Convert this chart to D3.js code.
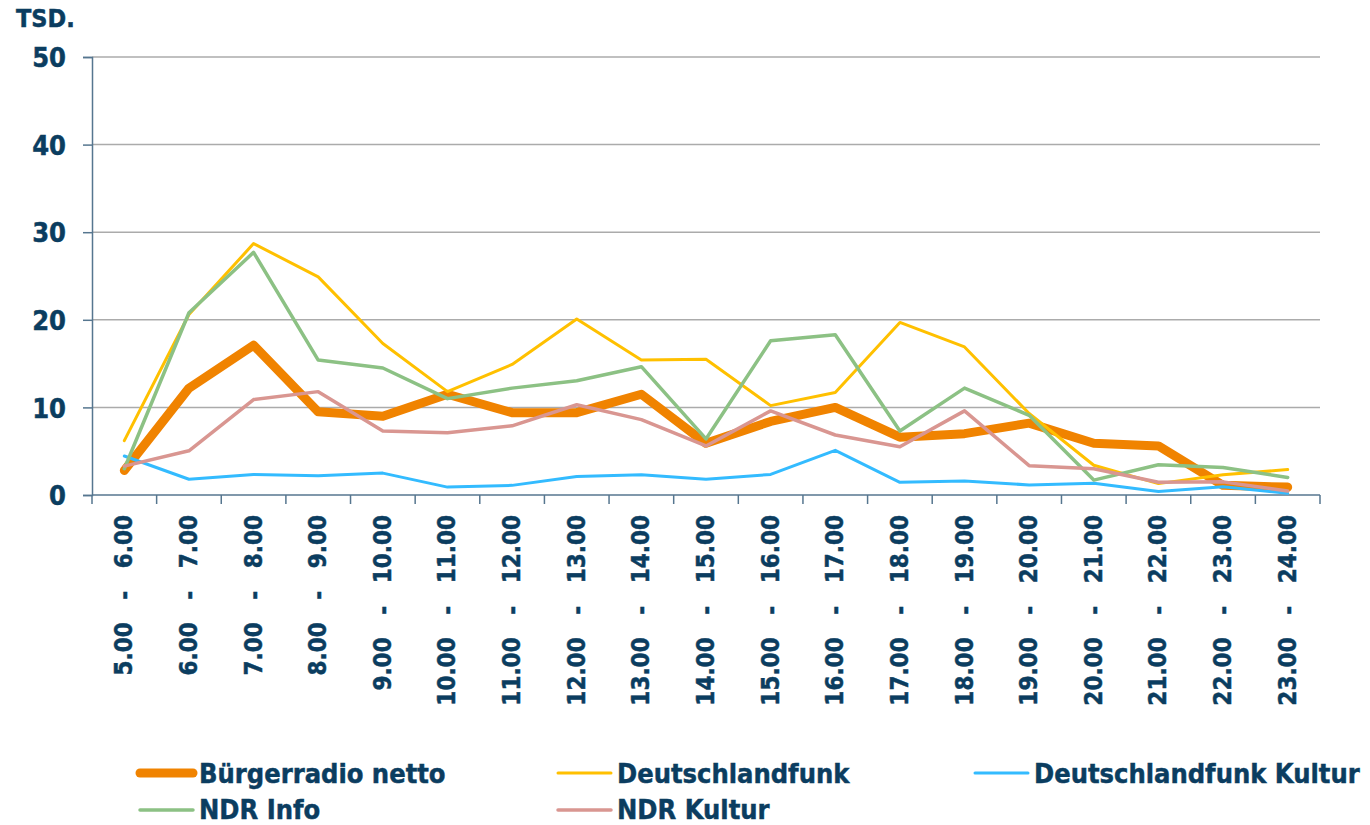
<!DOCTYPE html>
<meta charset="utf-8">

<!-- Load d3.js -->
<script src="https://d3js.org/d3.v7.js"></script>

<style>
  body { margin: 0; background: #fff; }
  text { font-family: "DejaVu Sans Condensed", "DejaVu Sans", sans-serif; font-stretch: condensed; font-weight: bold; fill: #0b3d60; stroke: #0b3d60; stroke-width: 0.45px; }
</style>

<svg id="my_dataviz" width="1370" height="825"></svg>

<script>

// categories (hour slots) and y ticks
const categories = ["5.00   -   6.00", "6.00   -   7.00", "7.00   -   8.00", "8.00   -   9.00",
  "9.00   -   10.00", "10.00   -   11.00", "11.00   -   12.00", "12.00   -   13.00",
  "13.00   -   14.00", "14.00   -   15.00", "15.00   -   16.00", "16.00   -   17.00",
  "17.00   -   18.00", "18.00   -   19.00", "19.00   -   20.00", "20.00   -   21.00",
  "21.00   -   22.00", "22.00   -   23.00", "23.00   -   24.00"];
const yTicks = [0, 10, 20, 30, 40, 50];

// series values (Tsd.)
const buergerradio = [2.8, 12.2, 17.1, 9.5, 9.0, 11.5, 9.4, 9.4, 11.5, 5.9, 8.4, 10.0, 6.6, 7.0, 8.2, 5.9, 5.6, 1.1, 0.9];
const dlf          = [6.2, 20.6, 28.7, 24.9, 17.3, 11.8, 14.9, 20.1, 15.4, 15.5, 10.2, 11.7, 19.7, 16.9, 9.3, 3.4, 1.3, 2.3, 2.9];
const dlfKultur    = [4.45, 1.8, 2.35, 2.2, 2.5, 0.9, 1.1, 2.1, 2.3, 1.8, 2.35, 5.1, 1.45, 1.6, 1.15, 1.35, 0.4, 0.95, 0.2];
const ndrInfo      = [3.0, 20.8, 27.7, 15.4, 14.5, 11.0, 12.2, 13.05, 14.65, 6.4, 17.6, 18.3, 7.3, 12.2, 9.1, 1.7, 3.45, 3.15, 2.0];
const ndrKultur    = [3.3, 5.05, 10.9, 11.8, 7.3, 7.1, 7.9, 10.3, 8.6, 5.6, 9.6, 6.85, 5.5, 9.6, 3.35, 3.0, 1.45, 1.5, 0.45];

const seriesNames = ["Bürgerradio netto", "Deutschlandfunk", "Deutschlandfunk Kultur", "NDR Info", "NDR Kultur"];
const seriesValues = [buergerradio, dlf, dlfKultur, ndrInfo, ndrKultur];
const seriesColors = ["#f08300", "#ffc000", "#33bbff", "#8cc184", "#d99691"];
const seriesWidths = [9, 3, 3, 3.5, 3.5];

// The svg
const svg = d3.select("svg");

const x = d3.scaleBand()
  .domain(categories)
  .range([92, 1320]);

const y = d3.scaleLinear()
  .domain([0, 50])
  .range([495, 57]);

const axisColor = "#56768f";

// grid lines
svg.append("g")
  .selectAll("line")
  .data(yTicks.filter(d => d > 0))
  .join("line")
    .attr("x1", 92)
    .attr("x2", 1320)
    .attr("y1", d => y(d))
    .attr("y2", d => y(d))
    .attr("stroke", "#ababab")
    .attr("stroke-width", 1.5);

// y axis
const yAxis = svg.append("g")
  .attr("transform", "translate(92,0)")
  .call(d3.axisLeft(y).tickValues(yTicks).tickSize(9).tickPadding(17).tickFormat(d3.format("d")));
yAxis.select(".domain").attr("stroke", axisColor).attr("stroke-width", 1.5);
yAxis.selectAll(".tick line").attr("stroke", axisColor).attr("stroke-width", 1.5);
yAxis.selectAll(".tick text")
  .attr("fill", "#0b3d60")
  .style("font-size", "27px")
  .attr("dy", "0.36em");

// x axis line and ticks at band boundaries
svg.append("line")
  .attr("x1", 92).attr("x2", 1320)
  .attr("y1", y(0)).attr("y2", y(0))
  .attr("stroke", axisColor).attr("stroke-width", 1.5);

svg.append("g")
  .selectAll("line")
  .data(d3.range(categories.length + 1))
  .join("line")
    .attr("x1", i => 92 + i * x.step())
    .attr("x2", i => 92 + i * x.step())
    .attr("y1", y(0))
    .attr("y2", y(0) + 9)
    .attr("stroke", axisColor)
    .attr("stroke-width", 1.5);

// x labels, rotated
svg.append("g")
  .selectAll("text")
  .data(categories)
  .join("text")
    .attr("transform", d => `translate(${x(d) + x.bandwidth() / 2 + 8},515) rotate(-90)`)
    .attr("text-anchor", "end")
    .style("font-size", "24px")
    .style("white-space", "pre")
    .text(d => d);

// unit label
svg.append("text")
  .attr("x", 16)
  .attr("y", 27)
  .style("font-size", "25px")
  .text("TSD.");

// lines
const line = d3.line()
  .x((d, i) => x(categories[i]) + x.bandwidth() / 2)
  .y(d => y(d));

svg.append("g")
  .selectAll("path")
  .data(seriesValues)
  .join("path")
    .attr("d", d => line(d))
    .attr("fill", "none")
    .attr("stroke", (d, i) => seriesColors[i])
    .attr("stroke-width", (d, i) => seriesWidths[i])
    .attr("stroke-linejoin", "round")
    .attr("stroke-linecap", "round");

// legend
const legendPos = [[140, 773], [558, 773], [975, 773], [140, 810], [558, 810]];

const legend = svg.append("g")
  .selectAll("g")
  .data(seriesNames)
  .join("g")
    .attr("transform", (d, i) => `translate(${legendPos[i][0]},${legendPos[i][1]})`);

legend.append("line")
  .attr("x1", 0)
  .attr("x2", 53)
  .attr("stroke", (d, i) => seriesColors[i])
  .attr("stroke-width", (d, i) => seriesWidths[i])
  .attr("stroke-linecap", "round");

legend.append("text")
  .attr("x", 59)
  .attr("y", (d, i) => i < 3 ? 10 : 9)
  .style("font-size", "27px")
  .text(d => d);

</script>
